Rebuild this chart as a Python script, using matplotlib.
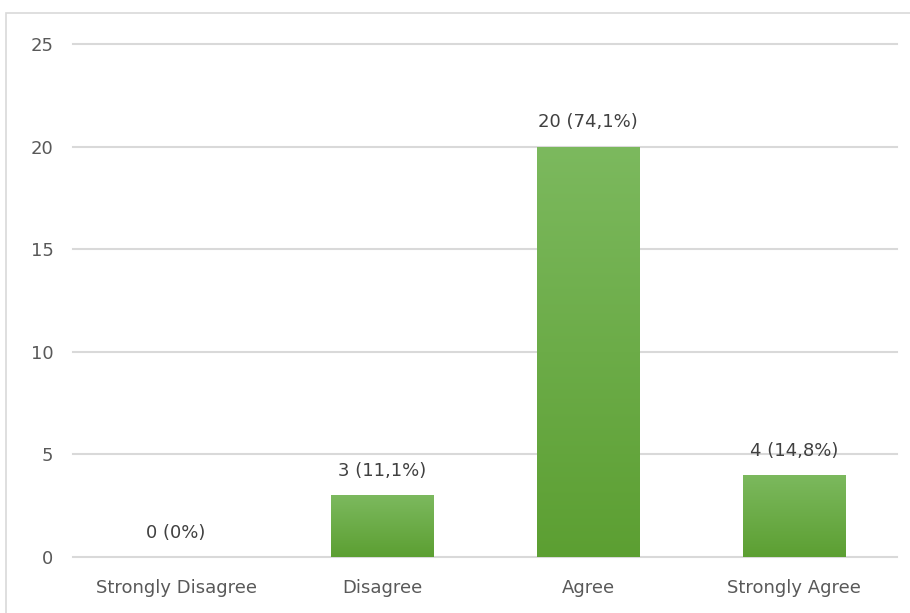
import matplotlib
matplotlib.use("Agg")
import matplotlib.pyplot as plt
import numpy as np
from matplotlib.patches import Rectangle
from matplotlib.colors import LinearSegmentedColormap

categories = ["Strongly Disagree", "Disagree", "Agree", "Strongly Agree"]
counts = [0, 3, 20, 4]
labels = ["0 (0%)", "3 (11,1%)", "20 (74,1%)", "4 (14,8%)"]
yticks = [0, 5, 10, 15, 20, 25]

plt.rcParams['font.family'] = ['DejaVu Sans']

fig = plt.figure(figsize=(9.10, 6.13), dpi=100)
fig.patch.set_facecolor("white")
fig.add_artist(Rectangle((6/910, -0.05), 1.0, 1 - 13/613 + 0.05, transform=fig.transFigure,
                         fill=False, edgecolor="#d9d9d9", linewidth=1.2))

ax = fig.add_axes([73/910, 1 - 557/613, (897 - 73)/910, (557 - 44)/613])
x = np.arange(len(categories))
bars = ax.bar(x, counts, width=0.5, color="#6aad42", zorder=3)

grad = np.linspace(0, 1, 256).reshape(-1, 1)
cmap = LinearSegmentedColormap.from_list("g", ["#5c9f32", "#7cb95e"])
for b in bars:
    if b.get_height() <= 0:
        continue
    x0, y0 = b.get_x(), b.get_y()
    w, h = b.get_width(), b.get_height()
    im = ax.imshow(grad, extent=[x0, x0 + w, y0, y0 + h], origin="lower", cmap=cmap,
                   aspect="auto", zorder=4)
    im.set_clip_path(b)

for xi, c, lab in zip(x, counts, labels):
    ax.annotate(lab, (xi, c), xytext=(0, 11), textcoords="offset points",
                ha="center", va="bottom", fontsize=13, color="#404040")

ax.set_xlim(-0.5, len(categories) - 0.5)
ax.set_ylim(0, 25)
ax.set_yticks(yticks)
ax.set_xticks(x)
ax.set_xticklabels(categories)
ax.tick_params(axis="both", length=0, labelsize=13, labelcolor="#595959")
ax.tick_params(axis="y", pad=14)
ax.tick_params(axis="x", pad=16)
ax.grid(axis="y", color="#d9d9d9", linewidth=1.5, zorder=0)
for gl in ax.yaxis.get_gridlines():
    gl.set_clip_on(False)
for s in ax.spines.values():
    s.set_visible(False)
ax.set_facecolor("none")

fig.savefig("out.png", dpi=100)
